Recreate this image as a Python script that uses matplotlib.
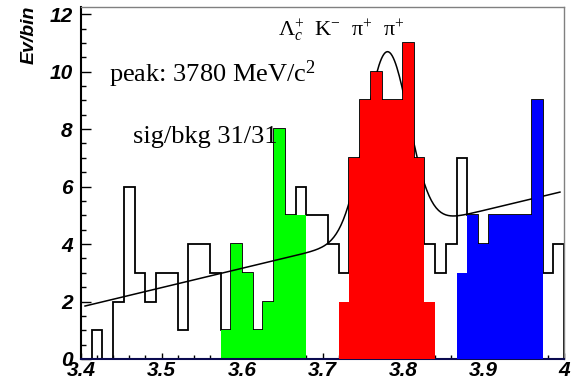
import numpy as np
import matplotlib
matplotlib.use("Agg")
import matplotlib.pyplot as plt
from matplotlib.ticker import MultipleLocator

# binning: 45 bins between 3.4 and 4.0 GeV
x_lo, x_hi, n_bins = 3.4, 4.0, 45

# data (black outline), one value per bin
data_counts = [0, 1, 0, 2, 6, 3, 2, 3, 3, 1,
               4, 4, 3, 1, 4, 3, 1, 2, 8, 5,
               6, 5, 5, 4, 3, 7, 9, 10, 9, 9,
               11, 7, 4, 3, 4, 7, 5, 4, 5, 5,
               5, 5, 9, 3, 4]

# coloured regions: first bin index + values
green_start = 13
green_vals = [1, 4, 3, 1, 2, 8, 5, 5]
red_start = 24
red_vals = [2, 7, 9, 10, 9, 9, 11, 7, 2]
blue_start = 35
blue_vals = [3, 5, 4, 5, 5, 5, 5, 9]

# fit: linear background + gaussian peak
bkg_a, bkg_b = 1.81, 6.72
peak_mean, peak_sigma, peak_amp = 3.78, 0.027, 6.33
fit_lo, fit_hi = 3.405, 3.995

x_ticks = [3.4, 3.5, 3.6, 3.7, 3.8, 3.9, 4.0]
x_tick_labels = ["3.4", "3.5", "3.6", "3.7", "3.8", "3.9", "4"]
y_ticks = [0, 2, 4, 6, 8, 10, 12]


def place(start, vals):
    arr = np.zeros(n_bins)
    arr[start:start + len(vals)] = vals
    return arr


def fit_func(x):
    return bkg_a + bkg_b * (x - x_lo) + peak_amp * np.exp(-0.5 * ((x - peak_mean) / peak_sigma) ** 2)


plt.rcParams['mathtext.fontset'] = 'custom'
plt.rcParams['mathtext.rm'] = 'Liberation Serif'
plt.rcParams['mathtext.it'] = 'Liberation Serif:italic'

fig = plt.figure(figsize=(5.76, 3.80), dpi=100)
ax = fig.add_axes([81 / 576, 1 - 359 / 380, 483 / 576, 351.7 / 380])

edges = np.linspace(x_lo, x_hi, n_bins + 1)
ax.stairs(data_counts, edges, color='black', lw=1.3, zorder=1)
ax.stairs(place(green_start, green_vals), edges, fill=True, color='#00ff00',
          lw=1.2, zorder=2)
xf = np.linspace(fit_lo, fit_hi, 400)
ax.plot(xf, fit_func(xf), color='black', lw=1.1, zorder=3)
ax.stairs(place(red_start, red_vals), edges, fill=True, color='#ff0000',
          lw=1.2, zorder=4)
ax.stairs(place(blue_start, blue_vals), edges, fill=True, color='#0000ff',
          lw=1.2, zorder=4)

ax.set_xlim(x_lo, x_hi)
ax.set_ylim(0, 12.24)

ax.set_xticks(x_ticks)
ax.set_xticklabels(x_tick_labels)
ax.set_yticks(y_ticks)
ax.xaxis.set_minor_locator(MultipleLocator(0.02))
ax.yaxis.set_minor_locator(MultipleLocator(0.5))
ax.tick_params(axis='x', which='major', direction='in', length=4.5, width=1, pad=1.5)
ax.tick_params(axis='x', which='minor', direction='in', length=2.8, width=1)
ax.tick_params(axis='y', which='major', direction='in', length=7.2, width=1, pad=6)
ax.tick_params(axis='y', which='minor', direction='in', length=3.6, width=1)
for lab in ax.get_xticklabels() + ax.get_yticklabels():
    lab.set_family('Liberation Sans')
    lab.set_fontweight('bold')
    lab.set_fontstyle('italic')
    lab.set_fontsize(15)

ax.spines['left'].set_linewidth(1.5)
ax.spines['bottom'].set_linewidth(1.5)
ax.spines['bottom'].set_color('#0a0a50')
for s in ['top', 'right']:
    ax.spines[s].set_color('#808080')
    ax.spines[s].set_linewidth(1.0)

fig.text(29 / 576, 1 - 6 / 380, 'Ev/bin', rotation=90, ha='center', va='top',
         family='Liberation Sans', fontweight='bold', fontstyle='italic', fontsize=14)

serif = dict(family='Liberation Serif', va='baseline', transform=ax.transAxes)
ax.text((278 - 81) / 483, (359 - 36) / 351.7,
        r'$\mathrm{\Lambda}_{c}^{+}$  K$^{-}$  $\mathrm{\pi}^{+}$  $\mathrm{\pi}^{+}$',
        fontsize=16, **serif)
ax.text((109 - 81) / 483, (359 - 82) / 351.7, r'peak: 3780 MeV/c$^{2}$',
        fontsize=19, **serif)
ax.text((133 - 81) / 483, (359 - 143) / 351.7, 'sig/bkg 31/31',
        fontsize=19, **serif)

fig.savefig('out.png', dpi=100)
